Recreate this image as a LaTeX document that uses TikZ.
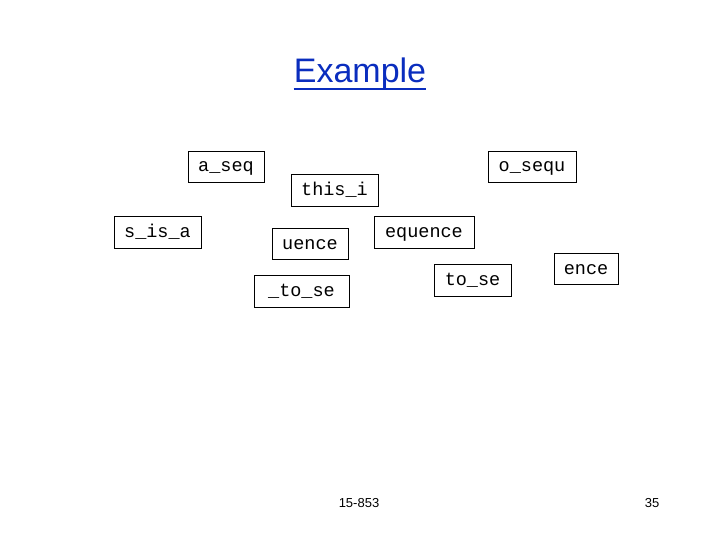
\documentclass[tikz,border=0pt]{standalone}
\usepackage{fontspec}
\setmainfont{Liberation Sans}
\setmonofont{Liberation Mono}
\definecolor{titleblue}{RGB}{10,45,190}
\begin{document}
\begin{tikzpicture}[x=1pt,y=-1pt,
  wbox/.style={draw=black,line width=0.9pt,inner sep=0pt,text height=11pt,text depth=-2pt,font=\fontsize{18.5}{21}\selectfont\ttfamily},
  foot/.style={inner sep=0pt,font=\fontsize{13}{15}\selectfont}]
\useasboundingbox (0,0) rectangle (720,540);
\node[inner sep=0pt,text=titleblue,anchor=base,font=\fontsize{34}{38}\selectfont] (title) at (360,83) {Example};
\draw[titleblue,line width=1.8pt] ([yshift=-6pt]title.base west) -- ([yshift=-6pt]title.base east);
\node[wbox,minimum width=76pt,minimum height=31pt] (aseq) at (226,166.5) {a\_seq};
\node[wbox,minimum width=87pt,minimum height=32pt] (thisi) at (334.5,190) {this\_i};
\node[wbox,minimum width=87pt,minimum height=32pt] (sisa) at (157.5,232) {s\_is\_a};
\node[wbox,minimum width=76pt,minimum height=31pt] (uence) at (310,243.5) {uence};
\node[wbox,minimum width=88pt,minimum height=31pt] (osequ) at (532,166.5) {o\_sequ};
\node[wbox,minimum width=100pt,minimum height=32pt] (equence) at (424,232) {equence};
\node[wbox,minimum width=64pt,minimum height=31pt] (ence) at (586,268.5) {ence};
\node[wbox,minimum width=77pt,minimum height=32pt] (tose) at (472.5,280) {to\_se};
\node[wbox,minimum width=95pt,minimum height=32pt] (utose) at (301.5,291) {\_to\_se};
\node[foot] (f1) at (359,503) {15-853};
\node[foot] (f2) at (652,503) {35};
\end{tikzpicture}
\end{document}
